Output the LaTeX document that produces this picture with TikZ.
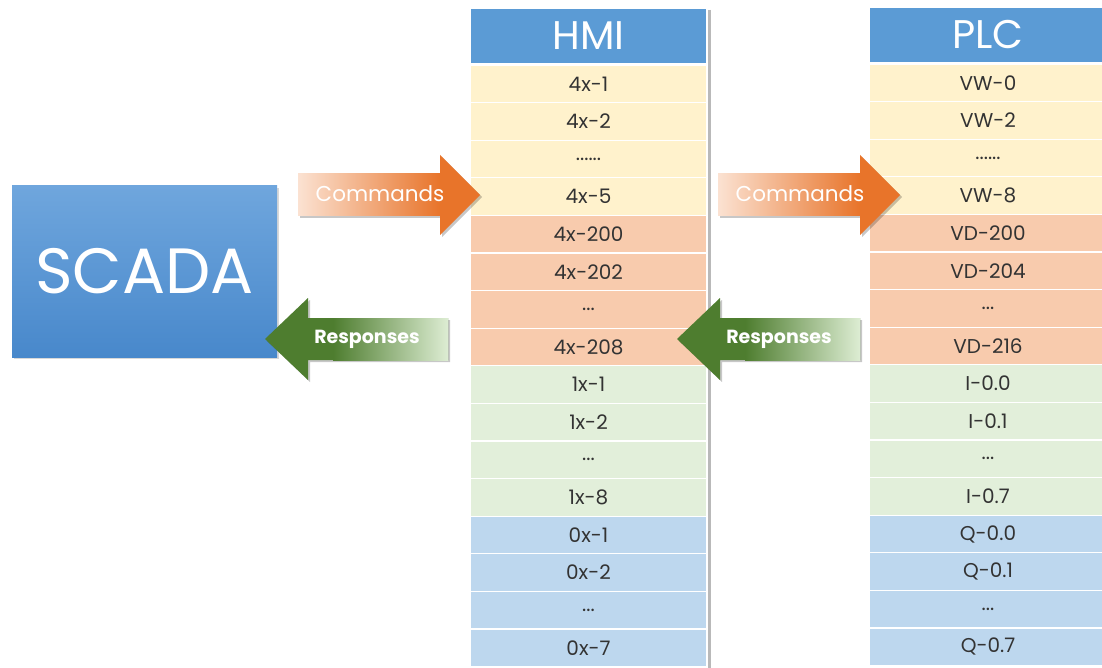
\documentclass[tikz,border=0pt]{standalone}
\usepackage{fontspec}
\setmainfont{Poppins}
\usetikzlibrary{shadows}
\definecolor{hdrblue}{HTML}{5B9BD5}
\definecolor{scadatop}{HTML}{6FA6DD}
\definecolor{scadabot}{HTML}{4888CB}
\definecolor{cyel}{HTML}{FFF2CC}
\definecolor{cora}{HTML}{F8CBAD}
\definecolor{cgrn}{HTML}{E2EFDA}
\definecolor{cblu}{HTML}{BDD7EE}
\definecolor{txtgray}{HTML}{333333}
\definecolor{corange}{HTML}{E8742A}
\definecolor{clightor}{HTML}{FBE2D2}
\definecolor{rgreen}{HTML}{4E7D2F}
\definecolor{rlight}{HTML}{DDEDD3}
\newcommand{\sixdots}{......}
\newcommand{\threedots}{...}
\begin{document}
\begin{tikzpicture}[x=1pt,y=-1pt,
  cell/.style={rectangle, draw=white, line width=1.2pt, minimum width=237pt, minimum height=37.6pt, inner sep=0pt, text=txtgray, font=\fontsize{20}{22}\selectfont},
  colhead/.style={rectangle, fill=hdrblue, draw=white, line width=1.2pt, minimum width=237pt, minimum height=56pt, inner sep=0pt, text=white, font=\fontsize{40}{44}\selectfont},
  scadabox/.style={rectangle, minimum width=265pt, minimum height=171pt, inner sep=0pt, top color=scadatop, bottom color=scadabot, text=white, font=\fontsize{64}{70}\selectfont, drop shadow={shadow xshift=2pt, shadow yshift=-2pt, opacity=.3}},
  cmdtxt/.style={text=white, font=\fontsize{21.5}{24}\selectfont, inner sep=0pt},
  resptxt/.style={text=white, font=\bfseries\fontsize{19}{22}\selectfont, inner sep=0pt},
  cmdarrow/.pic={
    \fill[black, opacity=.22] (-180,-19) -- (-38,-19) -- (-38,-38) -- (2,2) -- (-38,42) -- (-38,23) -- (-180,23) -- cycle;
    \fill[corange] (-182,-21) -- (-40,-21) -- (-40,-40) -- (0,0) -- (-40,40) -- (-40,21) -- (-182,21) -- cycle;
    \shade[left color=clightor, right color=corange] (-182,-21) rectangle (-40,21);
  },
  resparrow/.pic={
    \fill[black, opacity=.22] (2,2) -- (45,-39) -- (45,-19) -- (185,-19) -- (185,23) -- (45,23) -- (45,43) -- cycle;
    \fill[rgreen] (0,0) -- (43,-41) -- (43,-21) -- (183,-21) -- (183,21) -- (43,21) -- (43,41) -- cycle;
    \shade[left color=rgreen, right color=rlight] (68,-21) rectangle (183,21);
  }
]
\useasboundingbox (0,0) rectangle (1102,668);
\fill[white] (0,0) rectangle (1102,668);

% SCADA
\node[scadabox] (scada) at (144.5,271.5) {SCADA};

% HMI column
\node[colhead] (hmi) at (588.5,36) {HMI};
\foreach \t/\c [count=\i] in {4x-1/cyel,4x-2/cyel,\sixdots/cyel,4x-5/cyel,4x-200/cora,4x-202/cora,\threedots/cora,4x-208/cora,1x-1/cgrn,1x-2/cgrn,\threedots/cgrn,1x-8/cgrn,0x-1/cblu,0x-2/cblu,\threedots/cblu,0x-7/cblu}
  \node[cell, fill=\c] (h\i) at (588.5,{65+37.6*(\i-0.5)}) {\t};
\draw[gray!55, line width=2.5pt] (709.5,10) -- (709.5,668);

% PLC column
\node[colhead] (plc) at (988,35) {PLC};
\foreach \t/\c [count=\i] in {VW-0/cyel,VW-2/cyel,\sixdots/cyel,VW-8/cyel,VD-200/cora,VD-204/cora,\threedots/cora,VD-216/cora,I-0.0/cgrn,I-0.1/cgrn,\threedots/cgrn,I-0.7/cgrn,Q-0.0/cblu,Q-0.1/cblu,\threedots/cblu,Q-0.7/cblu}
  \node[cell, fill=\c] (p\i) at (988,{64+37.6*(\i-0.5)}) {\t};

% Block arrows
\pic at (480,195) {cmdarrow};
\pic at (900,195) {cmdarrow};
\pic at (265,339) {resparrow};
\pic at (677,339) {resparrow};
\node[cmdtxt] (c1) at (380,194) {Commands};
\node[cmdtxt] (c2) at (800,194) {Commands};
\node[resptxt] (r1) at (367,339) {Responses};
\node[resptxt] (r2) at (779,339) {Responses};
\end{tikzpicture}
\end{document}
